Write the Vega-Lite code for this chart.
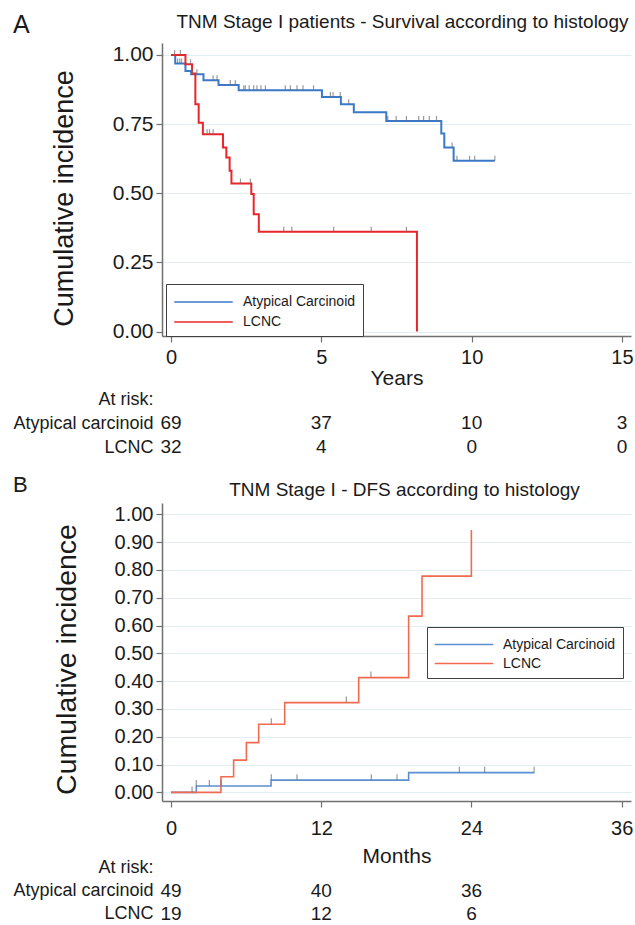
{
  "$schema": "https://vega.github.io/schema/vega-lite/v6.json",
  "padding": {"left": 12, "top": 13, "right": 4, "bottom": 2},
  "background": "white",
  "config": {
    "font": "Liberation Sans",
    "view": {"stroke": null},
    "axis": {
      "labelFont": "Liberation Sans", "titleFont": "Liberation Sans",
      "labelColor": "#1a1a1a", "titleColor": "#1a1a1a",
      "titleFontWeight": "normal",
      "domainColor": "#707070", "domainWidth": 1.5,
      "tickColor": "#707070", "tickWidth": 1.2, "tickSize": 6,
      "gridColor": "#e3eef1", "gridWidth": 1,
      "labelFlush": false, "labelOverlap": false, "labelBound": false
    },
    "title": {"font": "Liberation Sans", "fontWeight": "normal", "color": "#1a1a1a"},
    "legend": {"labelFont": "Liberation Sans", "labelColor": "#1a1a1a", "labelLimit": 300, "cornerRadius": 0}
  },
  "datasets": {
    "curvesA": [
      {"group": "Atypical Carcinoid", "t": 0, "s": 1},
      {"group": "Atypical Carcinoid", "t": 0.14, "s": 0.969},
      {"group": "Atypical Carcinoid", "t": 0.48, "s": 0.942},
      {"group": "Atypical Carcinoid", "t": 0.67, "s": 0.93},
      {"group": "Atypical Carcinoid", "t": 1.08, "s": 0.908},
      {"group": "Atypical Carcinoid", "t": 1.58, "s": 0.891},
      {"group": "Atypical Carcinoid", "t": 2.25, "s": 0.872},
      {"group": "Atypical Carcinoid", "t": 5.02, "s": 0.848},
      {"group": "Atypical Carcinoid", "t": 5.65, "s": 0.822},
      {"group": "Atypical Carcinoid", "t": 6.08, "s": 0.793},
      {"group": "Atypical Carcinoid", "t": 7.16, "s": 0.761},
      {"group": "Atypical Carcinoid", "t": 8.99, "s": 0.716},
      {"group": "Atypical Carcinoid", "t": 9.09, "s": 0.665},
      {"group": "Atypical Carcinoid", "t": 9.4, "s": 0.617},
      {"group": "Atypical Carcinoid", "t": 10.77, "s": 0.617},
      {"group": "LCNC", "t": 0, "s": 1},
      {"group": "LCNC", "t": 0.48, "s": 0.966},
      {"group": "LCNC", "t": 0.7, "s": 0.933},
      {"group": "LCNC", "t": 0.81, "s": 0.822},
      {"group": "LCNC", "t": 0.92, "s": 0.755},
      {"group": "LCNC", "t": 1.06, "s": 0.713},
      {"group": "LCNC", "t": 1.73, "s": 0.665},
      {"group": "LCNC", "t": 1.84, "s": 0.629},
      {"group": "LCNC", "t": 1.95, "s": 0.581},
      {"group": "LCNC", "t": 2.01, "s": 0.535},
      {"group": "LCNC", "t": 2.67, "s": 0.497},
      {"group": "LCNC", "t": 2.75, "s": 0.424},
      {"group": "LCNC", "t": 2.92, "s": 0.361},
      {"group": "LCNC", "t": 8.18, "s": 0}
    ],
    "censA": [
      {"t": 0.22, "s": 0.969}, {"t": 0.29, "s": 0.969}, {"t": 0.35, "s": 0.969},
      {"t": 0.7, "s": 0.93}, {"t": 0.86, "s": 0.93},
      {"t": 1.4, "s": 0.908}, {"t": 1.53, "s": 0.908},
      {"t": 1.97, "s": 0.891}, {"t": 2.14, "s": 0.891},
      {"t": 2.42, "s": 0.872}, {"t": 2.47, "s": 0.872}, {"t": 2.6, "s": 0.872}, {"t": 2.75, "s": 0.872},
      {"t": 2.86, "s": 0.872}, {"t": 2.99, "s": 0.872}, {"t": 3.14, "s": 0.872}, {"t": 3.8, "s": 0.872},
      {"t": 3.97, "s": 0.872}, {"t": 4.19, "s": 0.872}, {"t": 4.39, "s": 0.872}, {"t": 4.74, "s": 0.872},
      {"t": 5.3, "s": 0.848}, {"t": 5.39, "s": 0.848}, {"t": 5.63, "s": 0.848},
      {"t": 5.91, "s": 0.822},
      {"t": 7.21, "s": 0.761}, {"t": 7.49, "s": 0.761}, {"t": 7.83, "s": 0.761}, {"t": 8.24, "s": 0.761},
      {"t": 8.4, "s": 0.761}, {"t": 8.59, "s": 0.761}, {"t": 8.83, "s": 0.761},
      {"t": 9.35, "s": 0.665},
      {"t": 9.51, "s": 0.617}, {"t": 9.93, "s": 0.617}, {"t": 10.1, "s": 0.617}, {"t": 10.77, "s": 0.617},
      {"t": 0.12, "s": 1}, {"t": 0.31, "s": 1}, {"t": 0.65, "s": 0.966},
      {"t": 1.2, "s": 0.713}, {"t": 1.28, "s": 0.713}, {"t": 1.4, "s": 0.713},
      {"t": 2.31, "s": 0.535}, {"t": 2.64, "s": 0.535},
      {"t": 3.75, "s": 0.361}, {"t": 4.02, "s": 0.361}, {"t": 5.41, "s": 0.361}, {"t": 6.66, "s": 0.361}, {"t": 7.83, "s": 0.361}
    ],
    "riskA": [
      {"row": "Atypical carcinoid", "t": 0, "n": "69"},
      {"row": "Atypical carcinoid", "t": 5, "n": "37"},
      {"row": "Atypical carcinoid", "t": 10, "n": "10"},
      {"row": "Atypical carcinoid", "t": 15, "n": "3"},
      {"row": "LCNC", "t": 0, "n": "32"},
      {"row": "LCNC", "t": 5, "n": "4"},
      {"row": "LCNC", "t": 10, "n": "0"},
      {"row": "LCNC", "t": 15, "n": "0"}
    ],
    "curvesB": [
      {"group": "Atypical Carcinoid", "t": 0, "s": 0},
      {"group": "Atypical Carcinoid", "t": 2.02, "s": 0.023},
      {"group": "Atypical Carcinoid", "t": 7.99, "s": 0.044},
      {"group": "Atypical Carcinoid", "t": 18.98, "s": 0.071},
      {"group": "Atypical Carcinoid", "t": 29.02, "s": 0.071},
      {"group": "LCNC", "t": 0, "s": 0},
      {"group": "LCNC", "t": 3.99, "s": 0.056},
      {"group": "LCNC", "t": 5.0, "s": 0.116},
      {"group": "LCNC", "t": 6.02, "s": 0.179},
      {"group": "LCNC", "t": 7.0, "s": 0.245},
      {"group": "LCNC", "t": 9.08, "s": 0.323},
      {"group": "LCNC", "t": 14.99, "s": 0.413},
      {"group": "LCNC", "t": 18.98, "s": 0.634},
      {"group": "LCNC", "t": 20.05, "s": 0.778},
      {"group": "LCNC", "t": 23.99, "s": 0.944}
    ],
    "censB": [
      {"t": 1.68, "s": 0}, {"t": 2.02, "s": 0.023}, {"t": 3.06, "s": 0.023}, {"t": 4.0, "s": 0.023},
      {"t": 8.01, "s": 0.044}, {"t": 10.06, "s": 0.044}, {"t": 16.0, "s": 0.044}, {"t": 18.05, "s": 0.044},
      {"t": 23.03, "s": 0.071}, {"t": 25.05, "s": 0.071}, {"t": 29.0, "s": 0.071},
      {"t": 8.01, "s": 0.245}, {"t": 14.0, "s": 0.323}, {"t": 15.97, "s": 0.413}
    ],
    "riskB": [
      {"row": "Atypical carcinoid", "t": 0, "n": "49"},
      {"row": "Atypical carcinoid", "t": 12, "n": "40"},
      {"row": "Atypical carcinoid", "t": 24, "n": "36"},
      {"row": "LCNC", "t": 0, "n": "19"},
      {"row": "LCNC", "t": 12, "n": "12"},
      {"row": "LCNC", "t": 24, "n": "6"}
    ]
  },
  "resolve": {"scale": {"x": "independent", "y": "independent", "color": "independent"}, "legend": {"color": "independent"}},
  "spacing": 15,
  "vconcat": [
    {
      "title": {"text": "A", "anchor": "start", "frame": "bounds", "fontSize": 25, "offset": 0, "dy": 25},
      "bounds": "flush",
      "spacing": 51,
      "resolve": {"scale": {"x": "independent", "y": "independent", "color": "independent"}, "legend": {"color": "independent"}},
      "vconcat": [
        {
          "width": 469, "height": 293,
          "title": {"text": "TNM Stage I patients - Survival according to histology", "fontSize": 19, "anchor": "middle", "frame": "group", "offset": 11, "dx": 6},
          "layer": [
            {
              "data": {"name": "curvesA"},
              "mark": {"type": "line", "interpolate": "step-after", "strokeWidth": 2},
              "encoding": {
                "x": {"field": "t", "type": "quantitative", "scale": {"domain": [-0.3, 15.3], "nice": false, "zero": false},
                      "axis": {"values": [0, 5, 10, 15], "tickCount": 20, "title": "Years", "grid": false, "labelFontSize": 20, "labelPadding": 5, "titleFontSize": 21, "titlePadding": 0, "labelOverlap": false}},
                "y": {"field": "s", "type": "quantitative", "scale": {"domain": [-0.016, 1.043], "nice": false, "zero": false},
                      "axis": {"values": [0, 0.25, 0.5, 0.75, 1], "tickCount": 20, "format": ".2f", "title": "Cumulative incidence", "grid": true, "labelFontSize": 21, "labelPadding": 3, "titleFontSize": 27, "titlePadding": 34, "titleY": 155, "labelOverlap": false}},
                "color": {"field": "group", "type": "nominal",
                          "scale": {"domain": ["Atypical Carcinoid", "LCNC"], "range": ["#3b78c8", "#e8262b"]},
                          "legend": {"title": null, "orient": "none", "legendX": 4, "legendY": 241, "symbolType": "M-1,0H5", "symbolSize": 380, "symbolStrokeWidth": 1.6, "labelFontSize": 14, "labelOffset": 48, "padding": 7, "rowPadding": 2, "strokeColor": "#404040", "fillColor": "white"}}
              }
            },
            {
              "data": {"name": "censA"},
              "mark": {"type": "tick", "orient": "vertical", "size": 5, "thickness": 1.2, "color": "#6e6e6e", "yOffset": -2.5},
              "encoding": {"x": {"field": "t", "type": "quantitative"}, "y": {"field": "s", "type": "quantitative"}}
            }
          ]
        },
        {
          "width": 469, "height": 72,
          "data": {"name": "riskA"},
          "mark": {"type": "text", "fontSize": 19, "align": "center", "baseline": "middle", "color": "#1a1a1a"},
          "encoding": {
            "x": {"field": "t", "type": "quantitative", "scale": {"domain": [-0.3, 15.3], "nice": false, "zero": false}, "axis": null},
            "y": {"field": "row", "type": "nominal", "scale": {"domain": ["At risk:", "Atypical carcinoid", "LCNC"], "paddingInner": 0, "paddingOuter": 0},
                  "axis": {"title": null, "domain": false, "ticks": false, "grid": false, "labelFontSize": 18, "labelPadding": 9, "labelLimit": 300}},
            "text": {"field": "n"}
          }
        }
      ]
    },
    {
      "title": {"text": "B", "anchor": "start", "frame": "bounds", "fontSize": 22, "offset": 0, "dy": 16},
      "bounds": "flush",
      "spacing": 55,
      "resolve": {"scale": {"x": "independent", "y": "independent", "color": "independent"}, "legend": {"color": "independent"}},
      "vconcat": [
        {
          "width": 469, "height": 298,
          "title": {"text": "TNM Stage I - DFS according to histology", "fontSize": 19, "anchor": "middle", "frame": "group", "offset": 3, "dx": 8},
          "layer": [
            {
              "data": {"name": "curvesB"},
              "mark": {"type": "line", "interpolate": "step-after", "strokeWidth": 1.6},
              "encoding": {
                "x": {"field": "t", "type": "quantitative", "scale": {"domain": [-0.72, 36.74], "nice": false, "zero": false},
                      "axis": {"values": [0, 12, 24, 36], "tickCount": 20, "title": "Months", "grid": false, "labelFontSize": 20, "labelPadding": 11, "titleFontSize": 21, "titlePadding": 7, "labelOverlap": false}},
                "y": {"field": "s", "type": "quantitative", "scale": {"domain": [-0.031, 1.041], "nice": false, "zero": false},
                      "axis": {"values": [0, 0.1, 0.2, 0.3, 0.4, 0.5, 0.6, 0.7, 0.8, 0.9, 1], "tickCount": 30, "format": ".2f", "title": "Cumulative incidence", "grid": true, "labelFontSize": 20, "labelPadding": 3, "titleFontSize": 28.5, "titlePadding": 33, "titleY": 156, "labelOverlap": false}},
                "color": {"field": "group", "type": "nominal",
                          "scale": {"domain": ["Atypical Carcinoid", "LCNC"], "range": ["#5a8fd2", "#f26a4f"]},
                          "legend": {"title": null, "orient": "none", "legendX": 265, "legendY": 124, "symbolType": "M-1,0H5", "symbolSize": 380, "symbolStrokeWidth": 1.5, "labelFontSize": 14, "labelOffset": 48, "padding": 7, "rowPadding": 1, "strokeColor": "#404040", "fillColor": "white"}}
              }
            },
            {
              "data": {"name": "censB"},
              "mark": {"type": "tick", "orient": "vertical", "size": 6, "thickness": 1.2, "color": "#6e6e6e", "yOffset": -3},
              "encoding": {"x": {"field": "t", "type": "quantitative"}, "y": {"field": "s", "type": "quantitative"}}
            }
          ]
        },
        {
          "width": 469, "height": 69,
          "data": {"name": "riskB"},
          "mark": {"type": "text", "fontSize": 19, "align": "center", "baseline": "middle", "color": "#1a1a1a"},
          "encoding": {
            "x": {"field": "t", "type": "quantitative", "scale": {"domain": [-0.72, 36.74], "nice": false, "zero": false}, "axis": null},
            "y": {"field": "row", "type": "nominal", "scale": {"domain": ["At risk:", "Atypical carcinoid", "LCNC"], "paddingInner": 0, "paddingOuter": 0},
                  "axis": {"title": null, "domain": false, "ticks": false, "grid": false, "labelFontSize": 18, "labelPadding": 9, "labelLimit": 300}},
            "text": {"field": "n"}
          }
        }
      ]
    }
  ]
}
